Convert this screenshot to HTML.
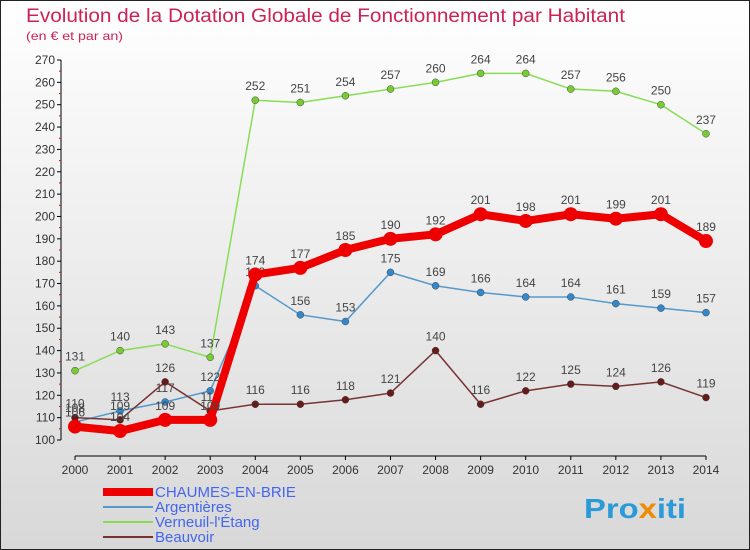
<!DOCTYPE html>
<html><head><meta charset="utf-8"><style>
body{margin:0;width:750px;height:550px;overflow:hidden;font-family:"Liberation Sans",sans-serif}
svg{display:block}
</style></head><body>
<svg id="c" width="750" height="550">
<defs><linearGradient id="bg" x1="0" y1="0" x2="0" y2="1"><stop offset="0" stop-color="#ffffff"/><stop offset="1" stop-color="#d8d8d8"/></linearGradient></defs>
<rect x="0.5" y="0.5" width="749" height="549" fill="url(#bg)" stroke="#222"/>
<text x="26" y="22" font-size="19" fill="#cc2255" textLength="599" lengthAdjust="spacingAndGlyphs">Evolution de la Dotation Globale de Fonctionnement par Habitant</text>
<text x="26" y="40" font-size="12" fill="#cc2255" textLength="97" lengthAdjust="spacingAndGlyphs">(en € et par an)</text>
<g id="axes"></g><g id="series"></g><g id="legend"></g>
<text x="584" y="518" font-size="28" font-weight="bold" fill="#2a9ad8" textLength="102" lengthAdjust="spacingAndGlyphs">Pro<tspan fill="#f08a00">x</tspan>iti</text>
</svg>
<script>
const years=[2000,2001,2002,2003,2004,2005,2006,2007,2008,2009,2010,2011,2012,2013,2014];
const chaumes=[106,104,109,109,174,177,185,190,192,201,198,201,199,201,189];
const argentieres=[108,113,117,122,169,156,153,175,169,166,164,164,161,159,157];
const verneuil=[131,140,143,137,252,251,254,257,260,264,264,257,256,250,237];
const beauvoir=[110,109,126,113,116,116,118,121,140,116,122,125,124,126,119];
const yTicks=[100,110,120,130,140,150,160,170,180,190,200,210,220,230,240,250,260,270];
const NS="http://www.w3.org/2000/svg";
const X=i=>75+i*45.07, Y=v=>440-(v-100)*380/170;
function mk(t,a,p){const e=document.createElementNS(NS,t);for(const k in a)e.setAttribute(k,a[k]);p.appendChild(e);return e;}
const ax=document.getElementById('axes');
let l=mk('line',{x1:61,y1:Y(270),x2:61,y2:Y(100),stroke:'#000'},ax);


l=mk('line',{x1:75,y1:456,x2:706,y2:456,stroke:'#000'},ax);


yTicks.forEach((v,i)=>{
 mk('line',{x1:57,y1:Y(v),x2:61,y2:Y(v),stroke:'#000'},ax);
 if(i<yTicks.length-1)mk('line',{x1:59,y1:Y(v+5),x2:61,y2:Y(v+5),stroke:'#e00'},ax);
 const t=mk('text',{x:55,y:Y(v)+4,'font-size':12,'text-anchor':'end',fill:'#333'},ax);t.textContent=v;
 
 
});
years.forEach((y,i)=>{
 mk('line',{x1:X(i),y1:456,x2:X(i),y2:460,stroke:'#000'},ax);
 const t=mk('text',{x:X(i),y:474,'font-size':12,'text-anchor':'middle',fill:'#333'},ax);t.textContent=y;
 
 
});
const sg=document.getElementById('series');
const defs=[
 {d:verneuil,c:'#88dd55',f:'#77cc33',w:1.5,r:3.5,n:'verneuil'},
 {d:argentieres,c:'#5599cc',f:'#3388cc',w:1.5,r:3.5,n:'argentieres'},
 {d:beauvoir,c:'#773333',f:'#661a1a',w:1.5,r:3.5,n:'beauvoir'},
 {d:chaumes,c:'#ee0000',f:'#ee0000',w:8,r:7,n:'chaumes'}];
defs.forEach(s=>{
 const g=mk('g',{},sg);
 
 
 const p=mk('polyline',{points:s.d.map((v,i)=>X(i)+','+Y(v)).join(' '),fill:'none',stroke:s.c,'stroke-width':s.w},g);
 
 
 s.d.forEach((v,i)=>{
  const c=mk('circle',{cx:X(i),cy:Y(v),r:s.r,fill:s.f,stroke:s.n==='chaumes'?'none':'#444','stroke-width':0.5},g);
  
  
  const t=mk('text',{x:X(i),y:Y(v)-10,'font-size':12,'text-anchor':'middle',fill:'#444'},g);t.textContent=v;
  
  
 });
});
const lg=document.getElementById('legend');
const leg=[['CHAUMES-EN-BRIE','#ee0000',8],['Argentières','#5599cc',2],['Verneuil-l\'Étang','#88dd55',2],['Beauvoir','#773333',2]];
leg.forEach((e,i)=>{
 const y=492+i*15;
 const g=mk('g',{},lg);
 
 
 mk('line',{x1:103,y1:y,x2:153,y2:y,stroke:e[1],'stroke-width':e[2]},g);
 const t=mk('text',{x:155,y:y+5,'font-size':15,fill:'#4466ee'},g);t.textContent=e[0];
});
</script>
</body></html>
